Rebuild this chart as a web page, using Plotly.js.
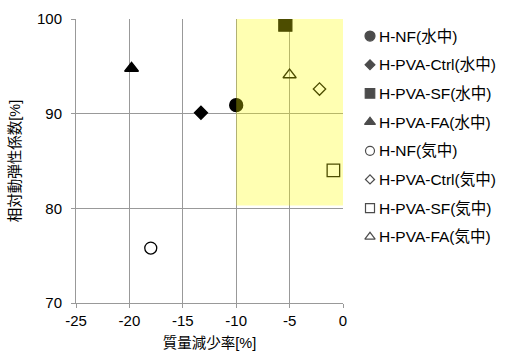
<!DOCTYPE html>
<html><head><meta charset="utf-8">
<script src="https://cdn.plot.ly/plotly-3.0.1.min.js"></script>
<style>html,body{margin:0;padding:0;background:#fff}#c{width:506px;height:356px}</style>
</head><body><div id="c"></div>
<script>
const names = ['H-NF(水中)','H-PVA-Ctrl(水中)','H-PVA-SF(水中)','H-PVA-FA(水中)','H-NF(気中)','H-PVA-Ctrl(気中)','H-PVA-SF(気中)','H-PVA-FA(気中)'];
const massLoss = [-10, -13.3, -5.4, -19.8, -18, -2.2, -0.9, -5];
const relDyn = [90.9, 90.1, 99.4, 94.8, 75.8, 92.6, 84.0, 94.1];
const symbols = ['circle','diamond','square','triangle-up','circle-open','diamond-open','square-open','triangle-up-open'];
const sizes = [13, 10, 13, 12, 12, 9.5, 12.5, 11.5];
const legendSizes = [10, 7.5, 9.5, 9.5, 9, 7, 9, 9];
const xTicks = [-25,-20,-15,-10,-5,0];
const xTickText = ['-25','-20','-15','-10','-5','0'];
const yTicks = [70,80,90,100];
const yTickText = ['70','80','90','100'];
const zone = {x0:-10, x1:0, y0:80.3, y1:100};

const FONT = 'Liberation Sans, Arial, Noto Sans CJK JP, sans-serif';
const W = 506, ML = 76, PW = 430;
const mainFrac = 267/PW;
const symFrac = (370-ML)/PW, txtFrac = (377-ML)/PW;
const rowTop = 0.940, rowStep = 0.101;

const traces = names.map((n,i)=>({
  type:'scatter', mode:'markers', name:n,
  x:[massLoss[i]], y:[relDyn[i]],
  marker:{symbol:symbols[i], size:sizes[i], color:'#000', line:{color:'#000', width:1.3}},
  showlegend:false, hoverinfo:'skip'
}));
traces.push({
  type:'scatter', mode:'markers', x:names.map(()=>0), y:names.map((n,i)=>i), xaxis:'x2', yaxis:'y2',
  marker:{symbol:symbols, size:legendSizes, color:'#000', line:{color:'#000', width:1.2}},
  cliponaxis:false, showlegend:false, hoverinfo:'skip'
});
const ann = names.map((n,i)=>({
  xref:'paper', yref:'paper', x:txtFrac, y:rowTop - i*rowStep, xanchor:'left', yanchor:'middle',
  text:n, showarrow:false, font:{family:FONT, size:15.5, color:'#000'}
}));
const layout = {
  width:W, height:356,
  margin:{l:ML, r:0, t:19, b:53},
  paper_bgcolor:'#fff', plot_bgcolor:'#fff',
  font:{family:FONT, size:15, color:'#000'},
  xaxis:{domain:[0, mainFrac], range:[-25,0], tickvals:xTicks, ticktext:xTickText, ticks:'outside', ticklen:4, tickcolor:'#999',
    showgrid:true, gridcolor:'#999', gridwidth:1, showline:true, linecolor:'#999', zeroline:false,
    title:{text:'質量減少率[%]', font:{size:14.5}, standoff:9}, tickfont:{size:15}},
  yaxis:{range:[70,100], tickvals:yTicks, ticktext:yTickText, ticks:'outside', ticklen:4, tickcolor:'#999',
    ticklabelstandoff:6,
    showgrid:true, gridcolor:'#999', gridwidth:1, showline:true, linecolor:'#999', zeroline:false,
    title:{text:'相対動弾性係数[%]', font:{size:14.5}, standoff:12}, tickfont:{size:15}},
  xaxis2:{domain:[symFrac-0.02, symFrac+0.02], range:[-1,1], visible:false, anchor:'y2'},
  yaxis2:{domain:[0,1], range:[rowTop/rowStep, -(1-rowTop)/rowStep], visible:false, anchor:'x2'},
  shapes:[{type:'rect', xref:'x', yref:'y', x0:zone.x0, x1:zone.x1, y0:zone.y0, y1:zone.y1,
    fillcolor:'rgba(255,255,0,0.3)', line:{width:0}, layer:'above'}],
  annotations:ann,
  showlegend:false
};
Plotly.newPlot('c', traces, layout, {staticPlot:true});
</script></body></html>
